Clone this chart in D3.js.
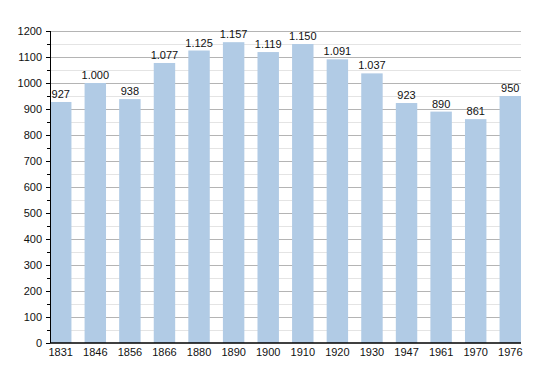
<!DOCTYPE html>
<html>
<head>
<meta charset="utf-8">
<script src="https://cdn.jsdelivr.net/npm/d3@7"></script>
<style>
  body { margin: 0; background: #fff; }
  text { font-family: "Liberation Sans", Arial, sans-serif; }
</style>
</head>
<body>
<script>
const years = ['1831','1846','1856','1866','1880','1890','1900','1910','1920','1930','1947','1961','1970','1976'];
const population = [927, 1000, 938, 1077, 1125, 1157, 1119, 1150, 1091, 1037, 923, 890, 861, 950];
const labels = ['927','1.000','938','1.077','1.125','1.157','1.119','1.150','1.091','1.037','923','890','861','950'];
const yTicks = [0,100,200,300,400,500,600,700,800,900,1000,1100,1200];

const svg = d3.select('body')
  .append('svg')
    .attr('width', 550)
    .attr('height', 373);

const margin = {top: 31, right: 29, bottom: 30, left: 50};
const W = 550 - margin.left - margin.right;
const H = 373 - margin.top - margin.bottom;

const g = svg.append('g')
  .attr('transform', 'translate(' + margin.left + ',' + margin.top + ')');

const x = d3.scaleBand()
  .domain(years)
  .range([0, W])
  .paddingInner(0.38)
  .paddingOuter(0);

const y = d3.scaleLinear()
  .domain([0, 1200])
  .range([H, 0]);

// minor grid (every 50)
const minor = d3.range(50, 1200, 100);
g.append('g').selectAll('line')
  .data(minor)
  .enter().append('line')
    .attr('x1', 0).attr('x2', W)
    .attr('y1', d => Math.round(y(d)) + 0.5)
    .attr('y2', d => Math.round(y(d)) + 0.5)
    .attr('stroke', '#e4e4e4');

// major grid
g.append('g').selectAll('line')
  .data(yTicks.slice(1))
  .enter().append('line')
    .attr('x1', 0).attr('x2', W)
    .attr('y1', d => Math.round(y(d)) + 0.5)
    .attr('y2', d => Math.round(y(d)) + 0.5)
    .attr('stroke', '#b4b4b4');

// bars
g.append('g').selectAll('rect')
  .data(population)
  .enter().append('rect')
    .attr('x', (d, i) => x(years[i]))
    .attr('y', d => y(d))
    .attr('width', x.bandwidth())
    .attr('height', d => H - y(d))
    .attr('fill', '#b1cbe5');

// value labels
g.append('g').selectAll('text')
  .data(population)
  .enter().append('text')
    .attr('x', (d, i) => x(years[i]) + x.bandwidth() / 2)
    .attr('y', d => y(d) - 4)
    .attr('text-anchor', 'middle')
    .attr('font-size', 11)
    .attr('fill', '#111')
    .text((d, i) => labels[i]);

// y axis
const yAxis = g.append('g')
  .call(d3.axisLeft(y).tickValues(yTicks).tickSize(4).tickPadding(4).tickFormat(d3.format('d')));
yAxis.selectAll('text').attr('font-size', 11).attr('fill', '#111').style('font-family', '"Liberation Sans", Arial, sans-serif');
yAxis.select('.domain').attr('stroke', '#000').attr('d', 'M0.5,0V' + H);
yAxis.selectAll('.tick line').attr('stroke', '#000');
g.append('g').selectAll('line')
  .data(minor)
  .enter().append('line')
    .attr('x1', -3).attr('x2', 0)
    .attr('y1', d => Math.round(y(d)) + 0.5)
    .attr('y2', d => Math.round(y(d)) + 0.5)
    .attr('stroke', '#000');

// x axis
const xAxis = g.append('g')
  .attr('transform', 'translate(0,' + H + ')')
  .call(d3.axisBottom(x).tickSize(0).tickPadding(5));
xAxis.selectAll('text').attr('font-size', 11).attr('fill', '#111').style('font-family', '"Liberation Sans", Arial, sans-serif');
xAxis.select('.domain').attr('stroke', '#000').attr('stroke-width', 1.5).attr('d', 'M0,0H' + W);
</script>
</body>
</html>
